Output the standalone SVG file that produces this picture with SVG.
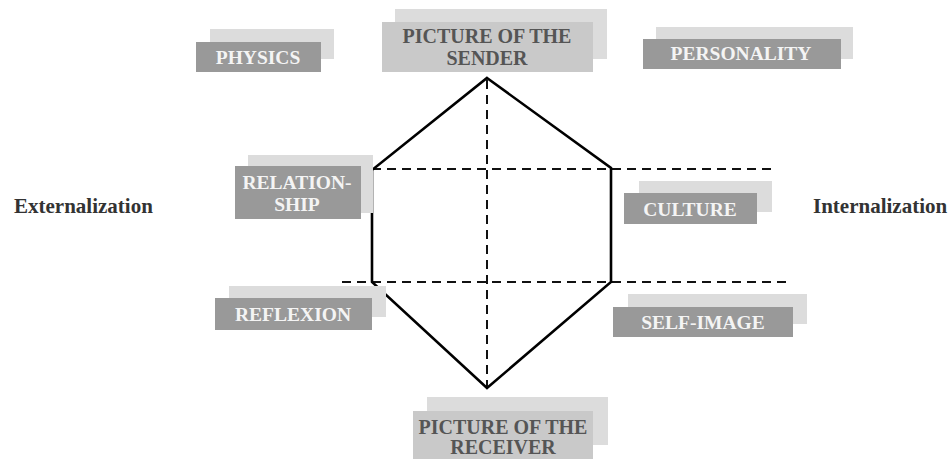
<svg xmlns="http://www.w3.org/2000/svg" width="950" height="459" viewBox="0 0 950 459">
<style>
.back{fill:#dcdcdc}
.front{fill:#999999}
.frontl{fill:#c9c9c9}
.lbl{font-family:"Liberation Serif","Times New Roman",serif;font-weight:bold;font-size:19.5px;fill:#f4f4f4;text-anchor:middle}
.lbld{font-family:"Liberation Serif","Times New Roman",serif;font-weight:bold;font-size:20px;fill:#555555;text-anchor:middle}
.side{font-family:"Liberation Serif","Times New Roman",serif;font-weight:bold;font-size:21px;fill:#333333}
.dash{stroke:#111;stroke-width:2;stroke-dasharray:9,6;fill:none}
.hex{stroke:#000;stroke-width:2.6;fill:none;stroke-linejoin:miter}
</style>
<rect width="950" height="459" fill="#ffffff"/>
<g id="connectors">
<line class="dash" x1="487" y1="80" x2="487" y2="386"/>
<line class="dash" x1="372" y1="169" x2="776" y2="169"/>
<line class="dash" x1="342" y1="282" x2="786" y2="282"/>
<polygon class="hex" points="487,78 611,168 611,282 487,388 372,282 372,170"/>
</g>
<g id="physics">
<rect class="back" x="210" y="29" width="124" height="30"/>
<rect class="front" x="196" y="42" width="125" height="30"/>
<text class="lbl" x="258" y="64">PHYSICS</text>
</g>
<g id="sender">
<rect class="back" x="395" y="9" width="212" height="50"/>
<rect class="frontl" x="382" y="22" width="211" height="50"/>
<text class="lbld" x="487" y="43">PICTURE OF THE</text>
<text class="lbld" x="487" y="65">SENDER</text>
</g>
<g id="personality">
<rect class="back" x="656" y="27" width="197" height="32"/>
<rect class="front" x="643" y="39" width="198" height="30"/>
<text class="lbl" x="741" y="60">PERSONALITY</text>
</g>
<g id="relationship">
<rect class="back" x="248" y="155" width="125" height="58"/>
<rect class="front" x="235" y="166" width="126" height="53"/>
<text class="lbl" x="297" y="189">RELATION-</text>
<text class="lbl" x="297" y="211">SHIP</text>
</g>
<g id="culture">
<rect class="back" x="639" y="181" width="133" height="31"/>
<rect class="front" x="624" y="193" width="133" height="31"/>
<text class="lbl" x="690" y="216">CULTURE</text>
</g>
<g id="reflexion">
<rect class="back" x="229" y="286" width="157" height="31"/>
<rect class="front" x="215" y="298" width="157" height="32"/>
<text class="lbl" x="293" y="321">REFLEXION</text>
</g>
<g id="selfimage">
<rect class="back" x="628" y="294" width="179" height="30"/>
<rect class="front" x="613" y="307" width="180" height="30"/>
<text class="lbl" x="703" y="329">SELF-IMAGE</text>
</g>
<g id="receiver">
<rect class="back" x="427" y="397" width="181" height="48"/>
<rect class="frontl" x="413" y="411" width="180" height="48"/>
<text class="lbld" x="503" y="434">PICTURE OF THE</text>
<text class="lbld" x="503" y="454">RECEIVER</text>
</g>
<g id="externalization">
<text class="side" x="14" y="213">Externalization</text>
</g>
<g id="internalization">
<text class="side" x="813" y="213">Internalization</text>
</g>
</svg>
